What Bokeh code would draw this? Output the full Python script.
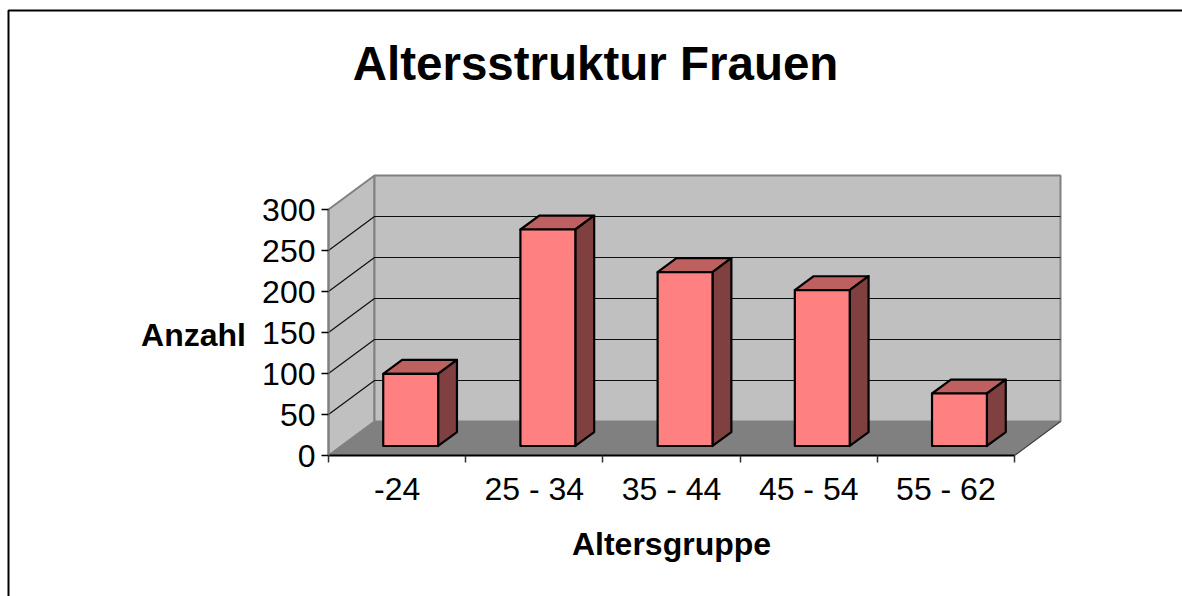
from bokeh.plotting import figure
from bokeh.models import LinearAxis, FixedTicker, Range1d
from bokeh.core.properties import value
from bokeh.embed import file_html
from bokeh.resources import INLINE

categories = ["-24", "25 - 34", "35 - 44", "45 - 54", "55 - 62"]
counts = [88, 264, 212, 190, 64]
y_ticks = [0, 50, 100, 150, 200, 250, 300]

FONT = "Liberation Sans"
W, H = 1182, 596
PX_X, PX_Y = 137.2, 0.82          # pixels per category, per count
ORG_X, ORG_Y = 328, 455           # canvas position of the axes' origin
DX, DY = 46 / PX_X, 34 / PX_Y     # full depth of the 3-D box in data units


def proj(c, v, d=0.0):
    return c + DX * d, v + DY * d


def poly(points):
    xs, ys = zip(*[proj(*pt) for pt in points])
    return list(xs), list(ys)


p = figure(width=W, height=H, output_backend="svg", toolbar_location=None,
           x_range=Range1d(-ORG_X / PX_X, (W - ORG_X) / PX_X),
           y_range=Range1d(-(H - ORG_Y) / PX_Y, ORG_Y / PX_Y),
           min_border=0,
           x_axis_type=None, y_axis_type=None, outline_line_color=None,
           background_fill_color="white", border_fill_color="white")
p.grid.visible = False

n = len(categories)
top = y_ticks[-1]
WALL, FLOOR, EDGE = "#c0c0c0", "#808080", "#808080"

# outer frame of the chart area: top and left only reach the picture
fx = (8 - ORG_X) / PX_X
ty = (ORG_Y - 10) / PX_Y
p.line([fx, fx, (W - ORG_X) / PX_X], [-(H - ORG_Y) / PX_Y, ty, ty], line_color="black", line_width=2)

# walls and floor
xs, ys = poly([(0, 0, 0), (0, top, 0), (0, top, 1), (0, 0, 1)])
p.patch(xs, ys, fill_color=WALL, line_color=EDGE, line_width=2)
xs, ys = poly([(0, 0, 1), (0, top, 1), (n, top, 1), (n, 0, 1)])
p.patch(xs, ys, fill_color=WALL, line_color=EDGE, line_width=2)

# grid lines on side wall and back wall
for t in y_ticks[1:-1]:
    xs, ys = poly([(0, t, 0), (0, t, 1), (n, t, 1)])
    p.line(xs, ys, line_color="#101010", line_width=1.2)

xs, ys = poly([(0, 0, 0), (n, 0, 0), (n, 0, 1), (0, 0, 1)])
p.patch(xs, ys, fill_color=FLOOR, line_color=None)
xs, ys = poly([(n, 0, 0), (n, 0, 1)])
p.line(xs, ys, line_color="#404040", line_width=1.2)

# bars
D0, D1 = 0.28, 0.69
G0, G1 = 0.305, 0.705
for i, v in enumerate(counts):
    l, r = i + G0, i + G1
    xs, ys = poly([(l, v, D0), (r, v, D0), (r, v, D1), (l, v, D1)])
    p.patch(xs, ys, fill_color="#bf6060", line_color="black", line_width=2.2, line_join="round")
    xs, ys = poly([(r, 0, D0), (r, v, D0), (r, v, D1), (r, 0, D1)])
    p.patch(xs, ys, fill_color="#804040", line_color="black", line_width=2.2, line_join="round")
    xs, ys = poly([(l, 0, D0), (r, 0, D0), (r, v, D0), (l, v, D0)])
    p.patch(xs, ys, fill_color="#ff8080", line_color="black", line_width=2.2, line_join="round")

# value axis
ya = LinearAxis(ticker=FixedTicker(ticks=y_ticks), fixed_location=0, bounds=(0, top))
ya.axis_line_color = EDGE
ya.axis_line_width = 2
ya.major_tick_line_color = "black"
ya.major_tick_in = 0
ya.major_tick_out = 7
ya.major_tick_line_width = 1.5
ya.minor_tick_line_color = None
ya.major_label_text_font = FONT
ya.major_label_text_font_size = "32px"
ya.major_label_text_color = "black"
ya.major_label_standoff = 6
p.add_layout(ya, "left")

# category axis: boundaries carry the tick marks, centres carry the labels
xa = LinearAxis(ticker=FixedTicker(ticks=list(range(n + 1))), fixed_location=0, bounds=(0, n))
xa.axis_line_color = "black"
xa.axis_line_width = 2
xa.major_tick_line_color = "#303030"
xa.major_tick_in = 0
xa.major_tick_out = 7
xa.major_tick_line_width = 1.5
xa.minor_tick_line_color = None
xa.major_label_text_font_size = "0px"
xa.major_label_text_color = None
p.add_layout(xa, "below")

centres = [i + 0.5 for i in range(n)]
xl = LinearAxis(ticker=FixedTicker(ticks=centres), fixed_location=0,
                major_label_overrides={c: s for c, s in zip(centres, categories)})
xl.axis_line_color = None
xl.major_tick_line_color = None
xl.minor_tick_line_color = None
xl.major_tick_in = 0
xl.major_tick_out = 0
xl.major_label_text_font = FONT
xl.major_label_text_font_size = "32px"
xl.major_label_text_color = "black"
xl.major_label_standoff = 15
p.add_layout(xl, "below")


def label(cx, cy, text, size, bold=True):
    x = (cx - ORG_X) / PX_X
    y = (ORG_Y - cy) / PX_Y
    p.text([x], [y], text=[text], text_font=value(FONT), text_font_size=size,
           text_font_style="bold" if bold else "normal", text_color="black",
           text_align="center", text_baseline="middle")


label(595, 63, "Altersstruktur Frauen", "47.5px")
label(193, 334, "Anzahl", "32px")
label(671, 543, "Altersgruppe", "32px")

open("out.html", "w").write(file_html(p, INLINE))
